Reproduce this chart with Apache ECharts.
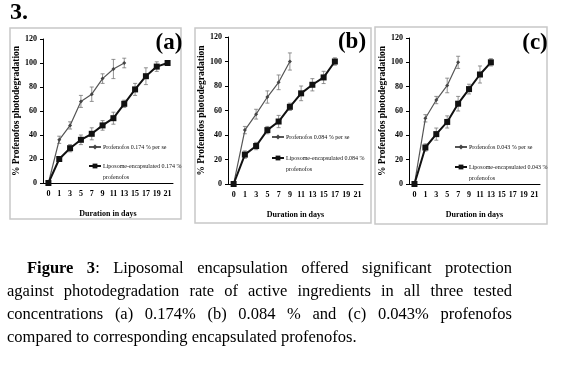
<!DOCTYPE html>
<html><head><meta charset="utf-8">
<script src="https://cdn.jsdelivr.net/npm/echarts@6/dist/echarts.min.js"></script>
<style>
html,body{margin:0;padding:0;background:#fff;width:562px;height:367px;overflow:hidden}
#chart{position:absolute;left:0;top:0;width:562px;height:367px}
#cap{position:absolute;left:7px;top:256px;width:505px;font-family:'Liberation Serif','Times New Roman',serif;font-size:16.5px;line-height:23px;color:#000}
#cap div{text-align:justify;text-align-last:justify}
#cap div.last{text-align:left;text-align-last:left}
#cap div.first{padding-left:20px}
</style></head>
<body>
<div id="chart"></div>
<div id="cap">
<div class="first"><b>Figure 3</b>: Liposomal encapsulation offered significant protection</div>
<div>against photodegradation rate of active ingredients in all three tested</div>
<div>concentrations (a) 0.174% (b) 0.084 % and (c) 0.043% profenofos</div>
<div class="last">compared to corresponding encapsulated profenofos.</div>
</div>
<script>
// ---- data ----
const days = ['0','1','3','5','7','9','11','13','15','17','19','21'];
const yMin = 0, yMax = 120, yStep = 20;
const panelLabels = ['(a)','(b)','(c)'];
const perSeNames = ['Profenofos 0.174 % per se','Profenofos 0.084 % per se','Profenofos 0.043 % per se'];
const lipoNames = ['Liposome-encapsulated 0.174 %','Liposome-encapsulated 0.084 %','Liposome-encapsulated 0.043 %'];
const lipoNameLine2 = 'profenofos';
const perSeA = [0,36,48,68,74,87,95,100];
const perSeErrA = [0,3,3,5,6,4,8,4];
const lipoA = [0,20,29,36,41,48,54,66,78,89,97,100];
const lipoErrA = [0,2,3,4,5,4,5,3,5,7,4,2];
const perSeB = [0,44,57,71,83,100];
const perSeErrB = [0,3,4,5,6,7];
const lipoB = [0,24,31,44,51,63,74,81,87,100];
const lipoErrB = [0,3,3,3,5,3,6,5,5,3];
const perSeC = [0,54,69,81,100];
const perSeErrC = [0,3,3,6,5];
const lipoC = [0,30,41,51,66,78,90,100];
const lipoErrC = [0,3,5,5,6,4,7,3];
const yTitle = '% Profenofos photodegradation';
const xTitle = 'Duration in days';

// ---- layout ----
const FONT = "'Liberation Serif','Times New Roman',serif";
const panels = [
  {box:[10,28,171,191], grid:{left:43,right:389,top:39,bottom:184}, lab:[169,43], leg:{left:88,top:143,gap:11}, perSe:perSeA, perSeErr:perSeErrA, lipo:lipoA, lipoErr:lipoErrA},
  {box:[195,28,176,195], grid:{left:228,right:199,top:37,bottom:183}, lab:[352,42], leg:{left:271,top:133,gap:13}, perSe:perSeB, perSeErr:perSeErrB, lipo:lipoB, lipoErr:lipoErrB},
  {box:[375,27,172,197], grid:{left:409,right:22,top:38,bottom:183}, lab:[535,43], leg:{left:454,top:143,gap:12}, perSe:perSeC, perSeErr:perSeErrC, lipo:lipoC, lipoErr:lipoErrC}
];
const LEG_FS = 6, LEG_LH = 8;

function errRender(params, api){
  const x = api.value(0), lo = api.value(1), hi = api.value(2);
  const p1 = api.coord([x, lo]), p2 = api.coord([x, hi]);
  const w = 2;
  const st = {stroke:'#777', lineWidth:0.8};
  return {type:'group', children:[
    {type:'line', shape:{x1:p1[0],y1:p1[1],x2:p2[0],y2:p2[1]}, style:st},
    {type:'line', shape:{x1:p1[0]-w,y1:p1[1],x2:p1[0]+w,y2:p1[1]}, style:st},
    {type:'line', shape:{x1:p2[0]-w,y1:p2[1],x2:p2[0]+w,y2:p2[1]}, style:st}
  ]};
}
function errData(vals, errs){
  const out = [];
  vals.forEach((v,i)=>{ if (errs[i] > 0) out.push([i, v-errs[i], v+errs[i]]); });
  return out;
}

const grid = [], xAxis = [], yAxis = [], series = [], legend = [], graphic = [];
graphic.push({type:'text', left:10, top:1, style:{text:'3.', font:"bold 24px "+FONT, fill:'#000'}});
panels.forEach((p,i)=>{
  graphic.push({type:'rect', shape:{x:p.box[0], y:p.box[1], width:p.box[2], height:p.box[3]}, style:{fill:'none', stroke:'#c8c8c8', lineWidth:1.5}, z:-1});
  graphic.push({type:'text', x:p.lab[0], y:p.lab[1], style:{text:panelLabels[i], font:"bold 23px "+FONT, fill:'#000', align:'center', verticalAlign:'middle'}});
  // second line of the liposome legend entry
  const secondCenter = p.leg.top + LEG_LH + p.leg.gap + LEG_LH/2;
  graphic.push({type:'text', x:p.leg.left + 15, y:secondCenter + 11, style:{text:lipoNameLine2, font:LEG_FS+"px "+FONT, fill:'#111', align:'left', verticalAlign:'middle'}});
  grid.push({left:p.grid.left, right:p.grid.right, top:p.grid.top, bottom:p.grid.bottom, containLabel:false});
  xAxis.push({type:'category', gridIndex:i, data:days, boundaryGap:true,
    axisLine:{lineStyle:{color:'#000', width:1}}, axisTick:{alignWithLabel:true, length:3, lineStyle:{color:'#000'}},
    axisLabel:{interval:0, fontFamily:FONT, fontSize:8, fontWeight:'bold', color:'#000', margin:7},
    name:xTitle, nameLocation:'middle', nameGap:27, nameTextStyle:{fontFamily:FONT, fontSize:8, fontWeight:'bold', color:'#000'}});
  yAxis.push({type:'value', gridIndex:i, min:yMin, max:yMax, interval:yStep,
    axisLine:{show:true, lineStyle:{color:'#000', width:1}}, axisTick:{show:true, length:3, lineStyle:{color:'#000'}},
    splitLine:{show:false},
    axisLabel:{fontFamily:FONT, fontSize:8, fontWeight:'bold', color:'#000', margin:6},
    name:yTitle, nameLocation:'middle', nameGap:21, nameRotate:90, nameTextStyle:{fontFamily:FONT, fontSize:9.5, fontWeight:'bold', color:'#000'}});
  series.push({type:'custom', xAxisIndex:i, yAxisIndex:i, renderItem:errRender, data:errData(p.perSe,p.perSeErr), encode:{x:0,y:[1,2]}, z:1, silent:true});
  series.push({type:'custom', xAxisIndex:i, yAxisIndex:i, renderItem:errRender, data:errData(p.lipo,p.lipoErr), encode:{x:0,y:[1,2]}, z:1, silent:true});
  series.push({type:'line', name:perSeNames[i], xAxisIndex:i, yAxisIndex:i, data:p.perSe, symbol:'diamond', symbolSize:4,
    lineStyle:{color:'#555', width:1.2}, itemStyle:{color:'#444'}, z:3});
  series.push({type:'line', name:lipoNames[i], xAxisIndex:i, yAxisIndex:i, data:p.lipo, symbol:'rect', symbolSize:6,
    lineStyle:{color:'#111', width:2}, itemStyle:{color:'#111'}, z:4});
  legend.push({left:p.leg.left, top:p.leg.top, orient:'vertical', itemGap:p.leg.gap, itemWidth:12, itemHeight:6, padding:0,
    data:[perSeNames[i], lipoNames[i]], selectedMode:false,
    textStyle:{fontFamily:FONT, fontSize:LEG_FS, color:'#111', lineHeight:LEG_LH, padding:[0,0,0,-3]}});
});

const chart = echarts.init(document.getElementById('chart'), null, {renderer:'canvas'});
chart.setOption({animation:false, backgroundColor:'#fff', grid, xAxis, yAxis, series, legend, graphic});
</script>
</body></html>
